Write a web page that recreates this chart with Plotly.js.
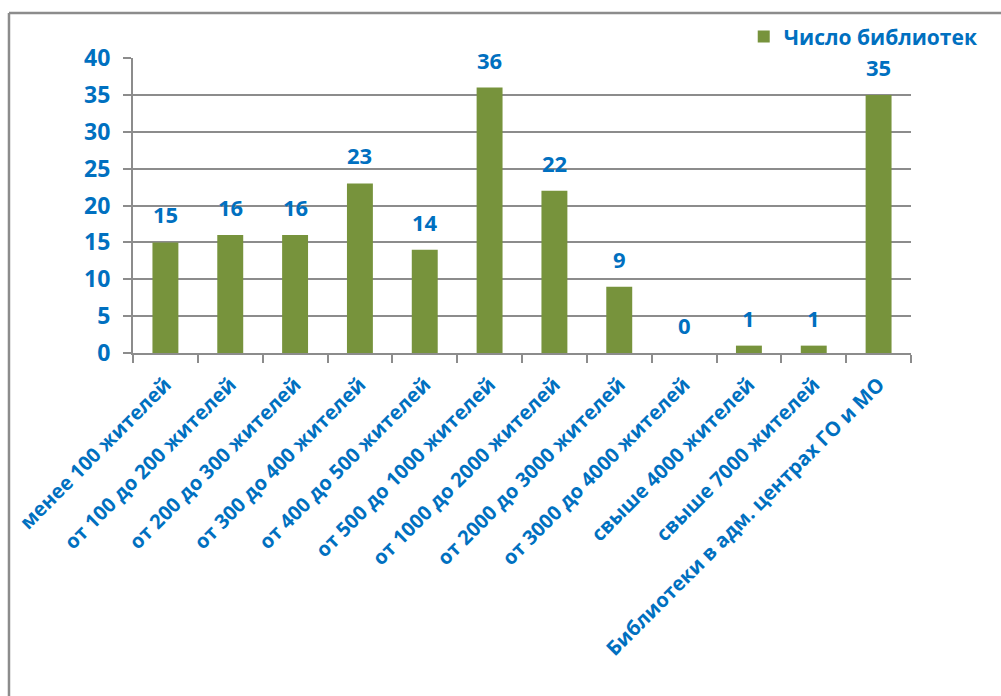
<!DOCTYPE html>
<html>
<head>
<meta charset="utf-8">
<script src="https://cdn.plot.ly/plotly-3.0.1.min.js"></script>
<style>html,body{margin:0;padding:0;background:#fff;}#chart{width:1001px;height:696px;}</style>
</head>
<body>
<div id="chart"></div>
<script>
const categories = [
  "менее 100 жителей",
  "от 100 до 200 жителей",
  "от 200 до 300 жителей",
  "от 300 до 400 жителей",
  "от 400 до 500 жителей",
  "от 500 до 1000 жителей",
  "от 1000 до 2000 жителей",
  "от 2000 до 3000 жителей",
  "от 3000 до 4000 жителей",
  "свыше 4000 жителей",
  "свыше 7000 жителей",
  "Библиотеки в адм. центрах ГО и МО"
];
const libraryCounts = [15, 16, 16, 23, 14, 36, 22, 9, 0, 1, 1, 35];
const seriesName = "Число библиотек";
const yTickValues = [0, 5, 10, 15, 20, 25, 30, 35, 40];

const blue = "#0070C0";
const green = "#77933C";
const font = "'Open Sans', 'DejaVu Sans', sans-serif";

const trace = {
  type: "bar",
  x: categories,
  y: libraryCounts,
  name: seriesName,
  marker: {color: green},
  width: 0.4,
  hoverinfo: "x+y"
};

const annotations = categories.map((c, i) => ({
  x: c, y: libraryCounts[i], xref: "x", yref: "y",
  text: String(libraryCounts[i]),
  showarrow: false, yanchor: "bottom", yshift: 11,
  font: {family: font, size: 22, color: blue, weight: 700}
}));

const layout = {
  width: 1001, height: 696,
  margin: {l: 133, r: 90, t: 58, b: 343},
  paper_bgcolor: "#fff", plot_bgcolor: "#fff",
  showlegend: true,
  legend: {
    x: 0.785, y: 1.072, xanchor: "left", yanchor: "middle",
    font: {family: font, size: 21, color: blue, weight: 700},
    itemwidth: 30
  },
  xaxis: {
    type: "category",
    tickangle: -45,
    tickson: "boundaries",
    ticks: "outside", ticklen: 8, tickcolor: "#8c8c8c", tickwidth: 2,
    ticklabelstandoff: 10,
    showline: true, linecolor: "#8c8c8c", linewidth: 2,
    showgrid: false,
    tickfont: {family: font, size: 20, color: blue, weight: 700},
    fixedrange: true
  },
  yaxis: {
    range: [0, 40],
    tickvals: yTickValues,
    ticks: "outside", ticklen: 8, tickcolor: "#8c8c8c", tickwidth: 2,
    ticklabelstandoff: 8,
    showline: true, linecolor: "#8c8c8c", linewidth: 2,
    showgrid: true, gridcolor: "#8c8c8c", gridwidth: 2,
    zeroline: false,
    tickfont: {family: font, size: 23, color: blue, weight: 700},
    fixedrange: true
  },
  annotations: annotations,
  shapes: [
    {type: "line", xref: "paper", yref: "paper",
     x0: -0.1594, x1: 1.2, y0: 1.1525, y1: 1.1525,
     line: {color: "#8c8c8c", width: 2.5}},
    {type: "line", xref: "paper", yref: "paper",
     x0: -0.1594, x1: -0.1594, y0: 1.1525, y1: -1.2,
     line: {color: "#8c8c8c", width: 2.5}}
  ],
  bargap: 0.6
};

Plotly.newPlot("chart", [trace], layout, {displayModeBar: false, staticPlot: true});
</script>
</body>
</html>
